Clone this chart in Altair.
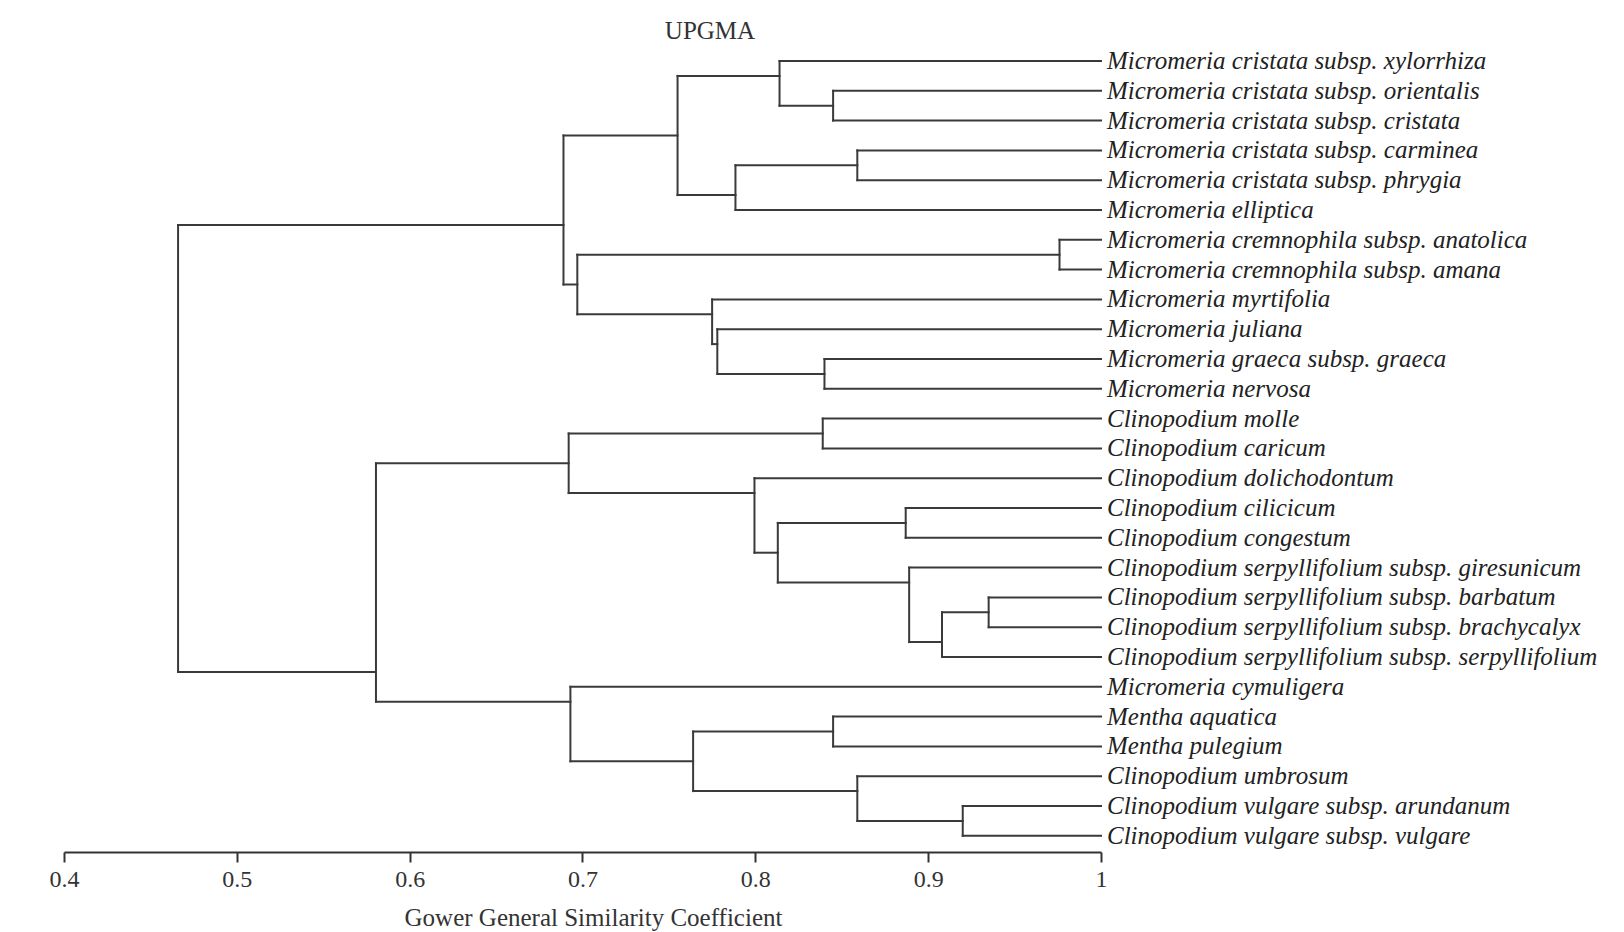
import altair as alt
import pandas as pd

# ---------------- data ----------------
leaf_names = [
    "Micromeria cristata subsp. xylorrhiza",
    "Micromeria cristata subsp. orientalis",
    "Micromeria cristata subsp. cristata",
    "Micromeria cristata subsp. carminea",
    "Micromeria cristata subsp. phrygia",
    "Micromeria elliptica",
    "Micromeria cremnophila subsp. anatolica",
    "Micromeria cremnophila subsp. amana",
    "Micromeria myrtifolia",
    "Micromeria juliana",
    "Micromeria graeca subsp. graeca",
    "Micromeria nervosa",
    "Clinopodium molle",
    "Clinopodium caricum",
    "Clinopodium dolichodontum",
    "Clinopodium cilicicum",
    "Clinopodium congestum",
    "Clinopodium serpyllifolium subsp. giresunicum",
    "Clinopodium serpyllifolium subsp. barbatum",
    "Clinopodium serpyllifolium subsp. brachycalyx",
    "Clinopodium serpyllifolium subsp. serpyllifolium",
    "Micromeria cymuligera",
    "Mentha aquatica",
    "Mentha pulegium",
    "Clinopodium umbrosum",
    "Clinopodium vulgare subsp. arundanum",
    "Clinopodium vulgare subsp. vulgare",
]

# internal nodes: id, similarity at the join, vertical position where the
# parent branch attaches (in leaf-row units), and the two children
node_ids = ["n1_2", "n0_2", "n3_4", "n3_5", "n0_5", "n6_7", "n10_11", "n9_11",
            "n8_11", "n6_11", "n0_11", "n12_13", "n15_16", "n18_19", "n18_20",
            "n17_20", "n15_20", "n14_20", "n12_20", "n22_23", "n25_26", "n24_26",
            "n22_26", "n21_26", "n12_26", "root"]
node_sim = [0.845, 0.814, 0.859, 0.7885, 0.755, 0.976, 0.840, 0.778,
            0.775, 0.697, 0.689, 0.839, 0.887, 0.935, 0.908,
            0.889, 0.813, 0.7995, 0.692, 0.845, 0.920, 0.859,
            0.764, 0.693, 0.5805, 0.466]
node_pos = [1.5, 0.5, 3.5, 4.5, 2.5, 6.5, 10.5, 9.5,
            8.5, 7.5, 5.5, 12.5, 15.5, 18.5, 19.5,
            17.5, 16.5, 14.5, 13.5, 22.5, 25.5, 24.5,
            23.5, 21.5, 20.5, None]
node_left = ["L1", "L0", "L3", "n3_4", "n0_2", "L6", "L10", "L9",
             "L8", "n6_7", "n0_5", "L12", "L15", "L18", "n18_19",
             "L17", "n15_16", "L14", "n12_13", "L22", "L25", "L24",
             "n22_23", "L21", "n12_20", "n0_11"]
node_right = ["L2", "n1_2", "L4", "L5", "n3_5", "L7", "L11", "n10_11",
              "n9_11", "n8_11", "n6_11", "L13", "L16", "L19", "L20",
              "n18_20", "n17_20", "n15_20", "n14_20", "L23", "L26", "n25_26",
              "n24_26", "n22_26", "n21_26", "n12_26"]

tick_values = [0.4, 0.5, 0.6, 0.7, 0.8, 0.9, 1.0]
x_title = "Gower General Similarity Coefficient"
chart_title = "UPGMA"

# ---------------- build segment table ----------------
pos = {f"L{i}": float(i) for i in range(len(leaf_names))}
sim = {f"L{i}": 1.0 for i in range(len(leaf_names))}
for nid, s, p in zip(node_ids, node_sim, node_pos):
    pos[nid] = p
    sim[nid] = s

rows = []
for nid, s, a, b in zip(node_ids, node_sim, node_left, node_right):
    ya, yb = pos[a], pos[b]
    rows.append({"x": s, "x2": s, "y": min(ya, yb), "y2": max(ya, yb)})
    for c in (a, b):
        rows.append({"x": s, "x2": sim[c], "y": pos[c], "y2": pos[c]})
seg = pd.DataFrame(rows)

leaf_df = pd.DataFrame({
    "name": leaf_names,
    "x": [1.0] * len(leaf_names),
    "y": list(range(len(leaf_names))),
})
title_df = pd.DataFrame({"t": [chart_title]})

# ---------------- layout ----------------
PLOT_W, PLOT_H = 1037, 836
ROW = 29.8            # px per leaf row
FIRST_ROW = 45.0      # px from plot top to first leaf
Y_TOP = -FIRST_ROW / ROW
Y_BOTTOM = (PLOT_H - FIRST_ROW) / ROW

FONT = "Liberation Serif"
INK = "#333333"

x_scale = alt.Scale(domain=[0.4, 1.0], nice=False, zero=False)
y_scale = alt.Scale(domain=[Y_TOP, Y_BOTTOM], reverse=True, nice=False, zero=False)

x_axis = alt.Axis(
    values=tick_values, format=".1~f", title=x_title, grid=False,
    domainColor=INK, domainWidth=2, tickColor=INK, tickWidth=2, tickSize=10,
    labelFont=FONT, labelFontSize=24, labelColor=INK, labelPadding=17,
    labelBaseline="middle", labelFlush=False,
    titleFont=FONT, titleFontSize=25, titleFontWeight="normal", titleColor=INK,
    titleX=529, titleY=65, titleBaseline="middle", titleAlign="center",
)

lines = alt.Chart(seg).mark_rule(color="#3a3a3a", strokeWidth=2, strokeCap="square").encode(
    x=alt.X("x:Q", scale=x_scale, axis=x_axis),
    x2="x2:Q",
    y=alt.Y("y:Q", scale=y_scale, axis=None),
    y2="y2:Q",
)

labels = alt.Chart(leaf_df).mark_text(
    align="left", baseline="middle", dx=6, font=FONT, fontStyle="italic",
    fontSize=25, color="#222222",
).encode(
    x=alt.X("x:Q", scale=x_scale),
    y=alt.Y("y:Q", scale=y_scale),
    text="name:N",
)

title = alt.Chart(title_df).mark_text(
    align="center", baseline="middle", font=FONT, fontSize=25, color=INK,
).encode(
    x=alt.value(646),
    y=alt.value(15),
    text="t:N",
)

chart = alt.layer(lines, labels, title).properties(
    width=PLOT_W, height=PLOT_H,
    padding={"left": 56, "top": 8, "right": 510, "bottom": 80},
    autosize=alt.AutoSizeParams(type="none"),
).configure(background="white").configure_view(stroke=None)

chart.save("out.html", embed_options={"renderer": "svg", "actions": False})
